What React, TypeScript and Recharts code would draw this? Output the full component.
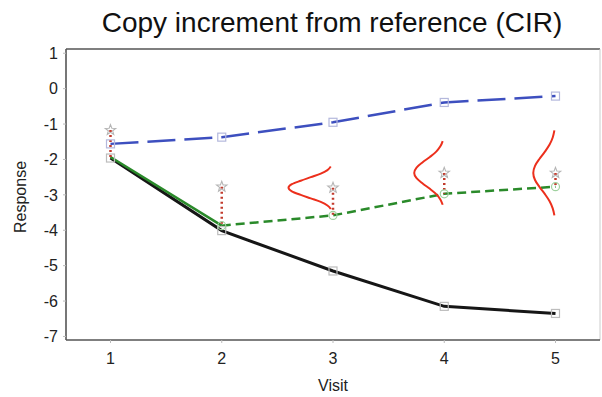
import React from 'react';
import { ComposedChart, Line, XAxis, YAxis, ReferenceLine } from 'recharts';

const FONT = "'Liberation Sans', Arial, Helvetica, sans-serif";

// Visits and axis ticks
const visits = [1, 2, 3, 4, 5];
const yTicks = [1, 0, -1, -2, -3, -4, -5, -6, -7];
const xDomain = [0.6, 5.4];
const yDomain = [-7.1, 1.12];

// Mean response per visit
const activeMean = [-1.56, -1.37, -0.95, -0.39, -0.21];
const referenceMean = [-1.96, -4.01, -5.15, -6.15, -6.35];
const cirMean = [-1.93, -3.87, -3.58, -2.97, -2.77];
// Number of visits observed before switching to copy-increment imputation
const observedVisits = 2;
// Individual draws shown at each visit
const drawValue = [-1.17, -2.77, -2.8, -2.38, -2.38];

// Sideways density curves: [visit position, response]
const densityVisit3: [number, number][] = [
  [2.98, -2.2], [2.95, -2.3], [2.89, -2.4], [2.8, -2.5], [2.71, -2.6], [2.63, -2.7],
  [2.6, -2.8], [2.63, -2.9], [2.71, -3.0], [2.8, -3.1], [2.89, -3.2], [2.95, -3.3], [2.98, -3.4],
];
const densityVisit4: [number, number][] = [
  [3.986, -1.48], [3.965, -1.63], [3.928, -1.78], [3.871, -1.93], [3.806, -2.08], [3.751, -2.23],
  [3.73, -2.38], [3.751, -2.53], [3.806, -2.68], [3.871, -2.83], [3.928, -2.98], [3.965, -3.13], [3.986, -3.28],
];
const densityVisit5: [number, number][] = [
  [4.99, -1.18], [4.975, -1.38], [4.947, -1.58], [4.905, -1.78], [4.857, -1.98], [4.816, -2.18],
  [4.8, -2.38], [4.816, -2.58], [4.857, -2.78], [4.905, -2.98], [4.947, -3.18], [4.975, -3.38], [4.99, -3.58],
];

const rows = visits.map((visit, i) => ({
  visit,
  active: activeMean[i],
  reference: referenceMean[i],
  cirObserved: i < observedVisits ? cirMean[i] : null,
  cirImputed: i >= observedVisits - 1 ? cirMean[i] : null,
}));

const drawRows = visits.map((visit, i) => ({ visit, draw: drawValue[i] }));

// Vertical dotted segment from each draw down to the CIR mean
const drawSegments = visits.map((visit, i) => [
  { visit, seg: drawValue[i] },
  { visit, seg: i === 0 ? referenceMean[i] : cirMean[i] },
]);

const densities = [densityVisit3, densityVisit4, densityVisit5].map((pts) =>
  pts.map(([visit, dens]) => ({ visit, dens }))
);

const squareDot = (stroke: string) => (props: any) => {
  const { cx, cy, index, value } = props;
  if (cx == null || cy == null || value == null) return <g key={index} />;
  return (
    <rect key={index} x={cx - 4} y={cy - 4} width={8} height={8} fill="none" stroke={stroke} strokeWidth={1.2} />
  );
};

const circleDot = (stroke: string) => (props: any) => {
  const { cx, cy, index, value } = props;
  if (cx == null || cy == null || value == null) return <g key={index} />;
  return <circle key={index} cx={cx} cy={cy} r={4} fill="none" stroke={stroke} strokeWidth={1.2} />;
};

const starDot = (props: any) => {
  const { cx, cy, index } = props;
  if (cx == null || cy == null) return <g key={index} />;
  const pts: string[] = [];
  for (let k = 0; k < 10; k++) {
    const r = k % 2 === 0 ? 5.5 : 2.3;
    const a = -Math.PI / 2 + (k * Math.PI) / 5;
    pts.push(`${cx + r * Math.cos(a)},${cy + r * Math.sin(a)}`);
  }
  return <polygon key={index} points={pts.join(' ')} fill="none" stroke="#b5b5b5" strokeWidth={1.1} />;
};

export default function App() {
  return (
    <div style={{ position: 'absolute', left: 0, top: 0, width: 602, height: 397, background: '#fff' }}>
      <ComposedChart
        width={602}
        height={397}
        data={rows}
        margin={{ top: 49, right: 2, bottom: 0, left: 0 }}
      >
        <XAxis
          type="number"
          dataKey="visit"
          domain={xDomain}
          ticks={visits}
          allowDataOverflow
          height={57}
          tickSize={3}
          tickMargin={10}
          axisLine={{ stroke: '#555', strokeWidth: 1.6 }}
          tickLine={{ stroke: '#bbb' }}
          tick={{ fontSize: 16, fill: '#222', fontFamily: FONT }}
        />
        <YAxis
          type="number"
          domain={yDomain}
          ticks={yTicks}
          allowDataOverflow
          width={66}
          tickSize={3}
          tickMargin={5}
          axisLine={{ stroke: '#555', strokeWidth: 1.6 }}
          tickLine={{ stroke: '#bbb' }}
          tick={{ fontSize: 16, fill: '#222', fontFamily: FONT }}
        />
        <ReferenceLine y={yDomain[1]} stroke="#555" strokeWidth={1.6} />
        <ReferenceLine x={xDomain[1]} stroke="#ccc" strokeWidth={1} />

        <Line
          dataKey="active"
          stroke="#3d4fbf"
          strokeWidth={2.5}
          strokeDasharray="28 9"
          dot={squareDot('#b4b8dc')}
          isAnimationActive={false}
        />
        <Line
          dataKey="reference"
          stroke="#161616"
          strokeWidth={3}
          dot={squareDot('#bdbdbd')}
          isAnimationActive={false}
        />
        <Line
          dataKey="cirObserved"
          stroke="#2a8a2a"
          strokeWidth={2.5}
          dot={false}
          isAnimationActive={false}
        />
        <Line
          dataKey="cirImputed"
          stroke="#2a8a2a"
          strokeWidth={2.5}
          strokeDasharray="9 5"
          dot={circleDot('#9fd19f')}
          isAnimationActive={false}
        />

        {drawSegments.map((seg, i) => (
          <Line
            key={`seg-${i}`}
            data={seg}
            dataKey="seg"
            stroke="#c23a2c"
            strokeWidth={2.5}
            strokeDasharray="2 3"
            dot={false}
            isAnimationActive={false}
          />
        ))}

        {densities.map((pts, i) => (
          <Line
            key={`dens-${i}`}
            data={pts}
            dataKey="dens"
            type="monotoneY"
            stroke="#ec2f1c"
            strokeWidth={2}
            dot={false}
            isAnimationActive={false}
          />
        ))}

        <Line
          data={drawRows}
          dataKey="draw"
          stroke="none"
          dot={starDot}
          isAnimationActive={false}
        />
      </ComposedChart>

      <svg
        width={602}
        height={397}
        style={{ position: 'absolute', left: 0, top: 0, pointerEvents: 'none' }}
      >
        <text x={332} y={32} textAnchor="middle" fontSize={28} fill="#111" fontFamily={FONT}>
          Copy increment from reference (CIR)
        </text>
        <text
          x={26}
          y={197}
          textAnchor="middle"
          fontSize={16}
          fill="#222"
          fontFamily={FONT}
          transform="rotate(-90 26 197)"
        >
          Response
        </text>
        <text x={333} y={391} textAnchor="middle" fontSize={16} fill="#222" fontFamily={FONT}>
          Visit
        </text>
      </svg>
    </div>
  );
}
